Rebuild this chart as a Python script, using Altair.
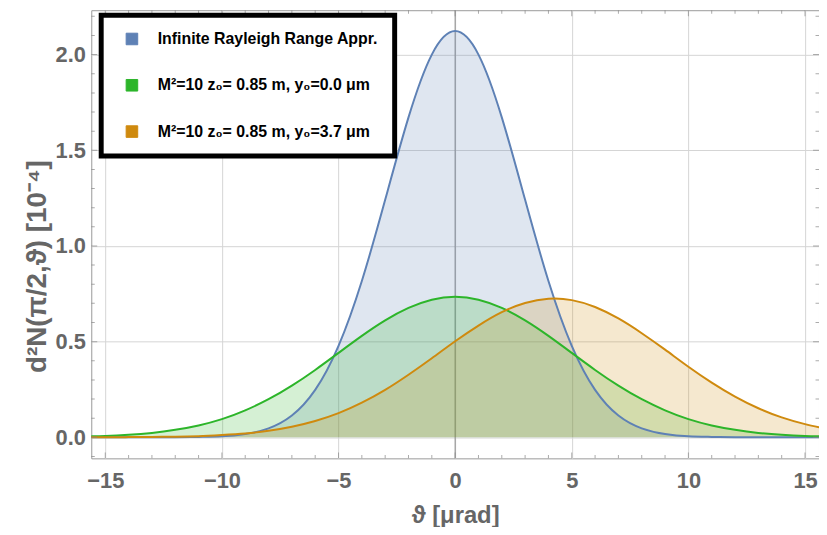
import altair as alt
import pandas as pd

# x positions (µrad)
theta = list(range(-16, 17))

# values (units of 1e-4)
blue = [0.000, 0.000, 0.000, 0.000, 0.000, 0.002, 0.005, 0.017, 0.047, 0.114,
        0.248, 0.478, 0.817, 1.241, 1.672, 2.000, 2.123, 2.000, 1.672, 1.241,
        0.817, 0.478, 0.248, 0.114, 0.047, 0.017, 0.005, 0.002, 0.000, 0.000,
        0.000, 0.000, 0.000]
green = [0.004, 0.007, 0.013, 0.023, 0.039, 0.062, 0.095, 0.141, 0.199, 0.270,
         0.352, 0.441, 0.530, 0.611, 0.676, 0.719, 0.734, 0.719, 0.676, 0.611,
         0.530, 0.441, 0.352, 0.270, 0.199, 0.141, 0.095, 0.062, 0.039, 0.023,
         0.013, 0.007, 0.004]
orange = [0.000, 0.000, 0.001, 0.002, 0.003, 0.006, 0.012, 0.020, 0.034, 0.055,
          0.085, 0.126, 0.181, 0.248, 0.327, 0.413, 0.502, 0.584, 0.654, 0.702,
          0.724, 0.717, 0.681, 0.621, 0.544, 0.458, 0.369, 0.286, 0.213, 0.152,
          0.104, 0.069, 0.043]

series_names = ["Infinite Rayleigh Range Appr.",
                "M²=10 z₀= 0.85 m, y₀=0.0 μm",
                "M²=10 z₀= 0.85 m, y₀=3.7 μm"]
colors = ["#5E81B5", "#2DB52A", "#CF8A0E"]

x_ticks = [-15, -10, -5, 0, 5, 10, 15]
y_ticks = [0.0, 0.5, 1.0, 1.5, 2.0]
x_minor = list(range(-15, 16))
y_minor = [i / 10 for i in range(-1, 23)]
x_zero = [0]
x_range = [-15.6, 15.6]
y_range = [-0.11, 2.232]

rows = []
for name, ys in zip(series_names, [blue, green, orange]):
    for x, y in zip(theta, ys):
        rows.append({"theta": x, "value": y, "series": name})
df = pd.DataFrame(rows)

FONT = "Liberation Sans"
GRAY = "#666666"
W, H = 734, 452

xscale = alt.Scale(domain=x_range, nice=False, zero=False)
yscale = alt.Scale(domain=y_range, nice=False, zero=False)
cscale = alt.Scale(domain=series_names, range=colors)

x_axis = alt.Axis(values=x_ticks, grid=True, gridColor="#d4d4d4", domain=False,
                  ticks=False, labelFont=FONT, labelFontSize=22,
                  labelFontWeight="bold", labelColor=GRAY, labelPadding=12,
                  title="ϑ [μrad]", titleFont=FONT, titleFontSize=24,
                  titleFontWeight="bold", titleColor=GRAY, titlePadding=13)
y_axis = alt.Axis(values=y_ticks, format=".1f", grid=True, gridColor="#d4d4d4",
                  domain=False, ticks=False, labelFont=FONT, labelFontSize=22,
                  labelFontWeight="bold", labelColor=GRAY, labelPadding=6,
                  title="d²N(π/2,ϑ) [10⁻⁴]", titleFont=FONT, titleFontSize=28,
                  titleFontWeight="bold", titleColor=GRAY, titleY=258)

legend = alt.Legend(
    title=None,
    orient="none", legendX=10, legendY=5,
    symbolType="square", symbolSize=136, symbolStrokeWidth=1, symbolOffset=7,
    symbolOpacity=1,
    labelOffset=18, labelFont=FONT, labelFontSize=16, labelFontWeight="bold",
    labelColor="black", labelLimit=400, rowPadding=30.7, padding=16,
    strokeColor="black", fillColor="white",
)

base = alt.Chart(df)

x_enc = alt.X("theta:Q", scale=xscale, axis=x_axis)
y_enc = alt.Y("value:Q", scale=yscale, axis=y_axis, stack=None)

zero_rule = alt.Chart(pd.DataFrame({"x0": x_zero})).mark_rule(
    color="#888888", strokeWidth=1).encode(
    x=alt.X("x0:Q", scale=xscale, axis=x_axis),
)

area = base.mark_area(interpolate="natural", fillOpacity=0.2, clip=True).encode(
    x=x_enc, y=y_enc, y2=alt.datum(0),
    color=alt.Color("series:N", scale=cscale, legend=legend),
)

line = base.mark_line(interpolate="natural", strokeWidth=2, clip=True).encode(
    x=x_enc, y=y_enc,
    color=alt.Color("series:N", scale=cscale, legend=legend),
)

# inward frame ticks (clipped to the plot, so only the inner half shows)
xt = pd.concat([pd.DataFrame({"tx": x_minor, "ty": y_range[0]}),
                pd.DataFrame({"tx": x_minor, "ty": y_range[1]})])
yt = pd.concat([pd.DataFrame({"ty": y_minor, "tx": x_range[0]}),
                pd.DataFrame({"ty": y_minor, "tx": x_range[1]})])

x_frame_ticks = alt.Chart(xt).mark_tick(orient="vertical", thickness=1,
                                        color="#888888", clip=True).encode(
    x=alt.X("tx:Q", scale=xscale, axis=x_axis),
    y=alt.Y("ty:Q", scale=yscale, axis=y_axis),
    size=alt.condition("datum.tx % 5 === 0", alt.value(12), alt.value(7)),
)
y_frame_ticks = alt.Chart(yt).mark_tick(orient="horizontal", thickness=1,
                                        color="#888888", clip=True).encode(
    x=alt.X("tx:Q", scale=xscale, axis=x_axis),
    y=alt.Y("ty:Q", scale=yscale, axis=y_axis),
    size=alt.condition("abs(round(datum.ty * 10)) % 5 === 0",
                       alt.value(12), alt.value(7)),
)

chart = alt.layer(zero_rule, area, line, x_frame_ticks, y_frame_ticks).properties(
    width=W, height=H,
    autosize=alt.AutoSizeParams(type="none"),
    padding={"left": 84, "top": 0, "right": 0, "bottom": 67},
).configure_view(stroke="#999999", strokeWidth=1).configure_legend(strokeWidth=5)

chart.save("out.html", embed_options={"renderer": "svg", "actions": False})
